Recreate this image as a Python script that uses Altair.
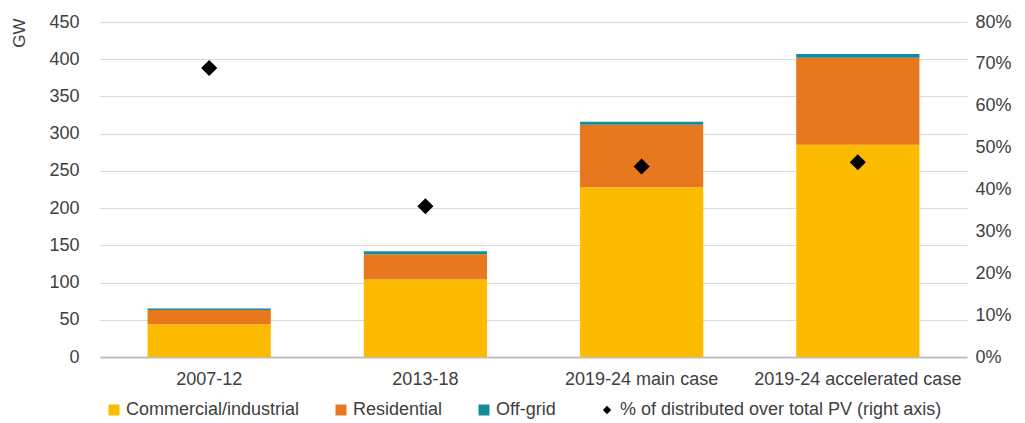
import altair as alt
import pandas as pd

periods = ["2007-12", "2013-18", "2019-24 main case", "2019-24 accelerated case"]
commercial = [44, 104, 228, 285]
residential = [19, 34, 84, 117]
offgrid = [2, 4, 4, 5]
share = [0.69, 0.36, 0.455, 0.465]

series = ["Commercial/industrial", "Residential", "Off-grid"]
colors = ["#FDBB00", "#E8781E", "#138B9B"]
point_label = "% of distributed over total PV (right axis)"

rows = []
for i, p in enumerate(periods):
    for j, (name, vals) in enumerate(zip(series, [commercial, residential, offgrid])):
        rows.append({"period": p, "series": name, "value": vals[i], "ord": j})
bars_df = pd.DataFrame(rows)
pts_df = pd.DataFrame({"period": periods, "share": share, "label": [point_label] * 4})

FONT = "Liberation Sans"
TXT = "#404040"
FS = 18

xenc = alt.X("period:N", sort=periods, title=None,
             scale=alt.Scale(paddingInner=0.43, paddingOuter=0.22),
             axis=alt.Axis(labelAngle=0, labelFontSize=FS, labelColor=TXT, labelFont=FONT,
                           ticks=False, domainColor="#bfbfbf", domainWidth=2, labelPadding=13,
                           labelLimit=400))

bars = alt.Chart(bars_df).mark_bar().encode(
    x=xenc,
    y=alt.Y("value:Q", stack="zero", title="GW",
            scale=alt.Scale(domain=[0, 450]),
            axis=alt.Axis(values=list(range(0, 451, 50)), labelFontSize=FS, labelColor=TXT,
                          labelFont=FONT, ticks=False, domain=False, gridColor="#d9d9d9",
                          titleFontSize=17, titleFont=FONT, titleColor=TXT, titleFontWeight="normal",
                          titleAnchor="end", titlePadding=20, labelPadding=21, titleY=-4)),
    color=alt.Color("series:N", sort=series,
                    scale=alt.Scale(domain=series, range=colors),
                    legend=alt.Legend(title=None, orient="none", direction="horizontal",
                                      legendX=5, legendY=379, symbolType="square",
                                      symbolSize=121, labelFontSize=FS, labelFont=FONT,
                                      labelColor=TXT, columnPadding=32, symbolStrokeWidth=0,
                                      labelOffset=3, labelLimit=400)),
    order=alt.Order("ord:Q", sort="ascending"),
)

points = alt.Chart(pts_df).mark_point(filled=True, color="black", size=260, opacity=1).encode(
    x=alt.X("period:N", sort=periods),
    y=alt.Y("share:Q", title=None, scale=alt.Scale(domain=[0, 0.8]),
            axis=alt.Axis(orient="right", format=".0%", values=[i / 10 for i in range(9)],
                          labelFontSize=FS, labelColor=TXT, labelFont=FONT, ticks=False,
                          domain=False, grid=False, labelPadding=8)),
    shape=alt.Shape("label:N", scale=alt.Scale(domain=[point_label], range=["diamond"]),
                    legend=alt.Legend(title=None, orient="none", legendX=498, legendY=379,
                                      symbolFillColor="black", symbolStrokeWidth=0,
                                      symbolSize=70, labelFontSize=FS, labelFont=FONT,
                                      labelColor=TXT, labelOffset=4, labelLimit=500)),
)

chart = alt.layer(bars, points).resolve_scale(y="independent", color="independent", shape="independent").properties(
    width=867, height=335,
    autosize=alt.AutoSizeParams(type="none"),
    padding={"left": 92, "top": 14, "right": 50, "bottom": 64},
).configure_view(stroke=None)

chart.save("out.html", embed_options={"renderer": "svg", "actions": False})
